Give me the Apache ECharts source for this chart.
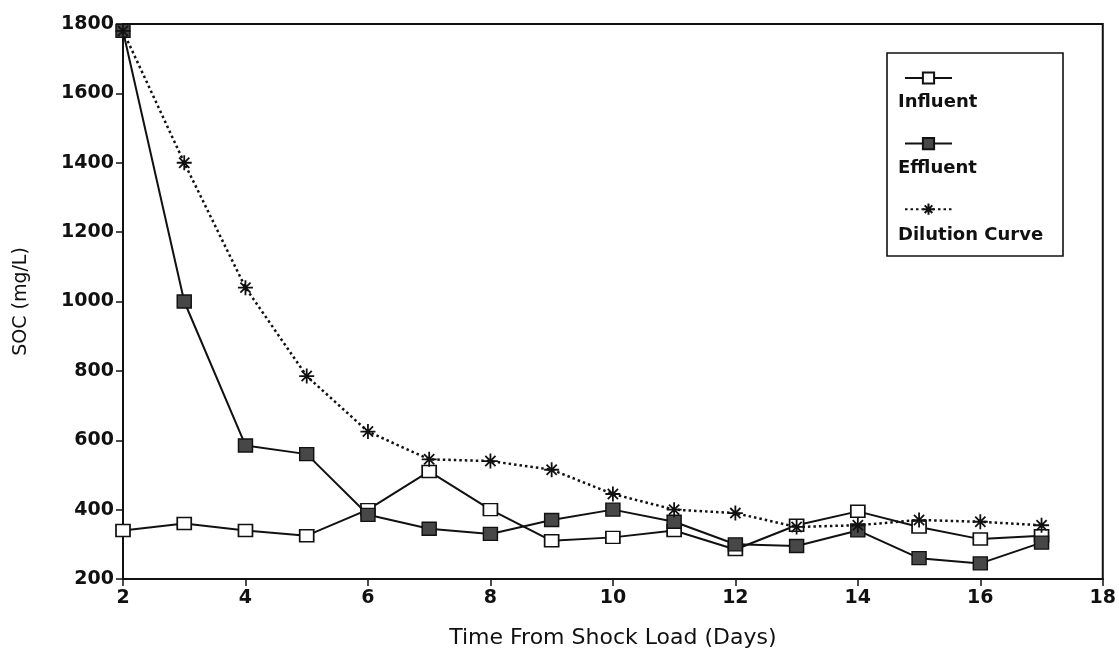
<!DOCTYPE html>
<html>
<head>
<meta charset="utf-8">
<title>SOC after shock load</title>
<script src="https://cdn.jsdelivr.net/npm/echarts@6/dist/echarts.min.js"></script>
<style>
  html, body { margin: 0; padding: 0; background: #fff; }
  #chart { width: 1119px; height: 658px; }
</style>
</head>
<body>
<div id="chart"></div>
<script>
// Days after the shock load
const days = [2, 3, 4, 5, 6, 7, 8, 9, 10, 11, 12, 13, 14, 15, 16, 17];

// Soluble organic carbon, mg/L
const influent = [340, 360, 340, 325, 400, 510, 400, 310, 320, 340, 285, 355, 395, 350, 315, 325];
const effluent = [1780, 1000, 585, 560, 385, 345, 330, 370, 400, 365, 300, 295, 340, 260, 245, 305];
const dilution = [1780, 1400, 1040, 785, 625, 545, 540, 515, 445, 400, 390, 350, 355, 370, 365, 355];

const seriesNames = ['Influent', 'Effluent', 'Dilution Curve'];

const FONT = 'DejaVu Sans';
const INK = '#111';

// asterisk drawn as stroked segments
const STAR = 'path://M0,5L10,5M5,0L5,10M1.6,1.6L8.4,8.4M8.4,1.6L1.6,8.4';

const pair = (vals) => days.map((d, i) => [d, vals[i]]);

const chart = echarts.init(document.getElementById('chart'), null, { renderer: 'canvas' });

chart.setOption({
  backgroundColor: '#fff',
  animation: false,
  grid: {
    left: 123, right: 14, top: 24, bottom: 79,
    show: true, borderColor: INK, borderWidth: 2, backgroundColor: 'transparent'
  },
  xAxis: {
    type: 'value', min: 2, max: 18, interval: 2,
    name: 'Time From Shock Load (Days)',
    nameLocation: 'middle', nameGap: 48,
    nameTextStyle: { fontFamily: FONT, fontSize: 22, color: INK },
    axisLine: { show: true, lineStyle: { color: INK, width: 2 } },
    axisTick: { show: true, length: 7, lineStyle: { color: INK, width: 1.5 } },
    axisLabel: { fontFamily: FONT, fontSize: 19, fontWeight: 'bold', color: INK, margin: 10 },
    splitLine: { show: false }
  },
  yAxis: {
    type: 'value', min: 200, max: 1800, interval: 200,
    name: 'SOC (mg/L)',
    nameLocation: 'middle', nameGap: 92, nameRotate: 90,
    nameTextStyle: { fontFamily: FONT, fontSize: 19, color: INK },
    axisLine: { show: true, lineStyle: { color: INK, width: 2 } },
    axisTick: { show: true, length: 7, lineStyle: { color: INK, width: 1.5 } },
    axisLabel: {
      fontFamily: FONT, fontSize: 19, fontWeight: 'bold', color: INK, margin: 9,
      formatter: (v) => String(v)
    },
    splitLine: { show: false }
  },
  legend: {
    orient: 'vertical',
    left: 899, top: 66,
    itemWidth: 47, itemHeight: 14, itemGap: 52,
    formatter: () => '',
    data: seriesNames,
    selectedMode: false
  },
  graphic: [
    {
      type: 'rect', z: -1,
      shape: { x: 887, y: 53, width: 176, height: 203 },
      style: { fill: '#fff', stroke: INK, lineWidth: 1.6 }
    },
    {
      type: 'text', left: 898, top: 93,
      style: { text: 'Influent', font: 'bold 18px "DejaVu Sans"', fill: INK }
    },
    {
      type: 'text', left: 898, top: 159,
      style: { text: 'Effluent', font: 'bold 18px "DejaVu Sans"', fill: INK }
    },
    {
      type: 'text', left: 898, top: 226,
      style: { text: 'Dilution Curve', font: 'bold 18px "DejaVu Sans"', fill: INK }
    }
  ],
  series: [
    {
      name: 'Influent', type: 'line', data: pair(influent), z: 2,
      symbol: 'rect', symbolSize: [14, 12],
      lineStyle: { color: INK, width: 2 },
      itemStyle: { color: '#fff', borderColor: INK, borderWidth: 1.6 }
    },
    {
      name: 'Effluent', type: 'line', data: pair(effluent), z: 3,
      symbol: 'rect', symbolSize: [14, 13],
      lineStyle: { color: INK, width: 2 },
      itemStyle: { color: '#474747', borderColor: INK, borderWidth: 1.4 }
    },
    {
      name: 'Dilution Curve', type: 'line', data: pair(dilution), z: 4,
      symbol: STAR, symbolSize: 15,
      lineStyle: { color: INK, width: 2.5, type: [2.5, 3] },
      itemStyle: { color: INK, borderColor: INK, borderWidth: 1.8 }
    }
  ]
});
</script>
</body>
</html>
